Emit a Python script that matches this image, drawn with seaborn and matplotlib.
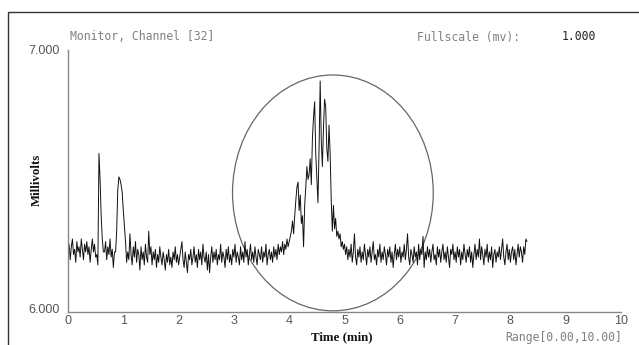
import numpy as np
import pandas as pd
import matplotlib
matplotlib.use("Agg")
import matplotlib.pyplot as plt
from matplotlib.patches import Ellipse, Rectangle
import seaborn as sns

# ---------------- data (millivolts, sampled every 0.02 min) ----------------
dt = 0.02
start_baseline = 0.00
baseline_start = [6.22, 6.25, 6.19, 6.24, 6.27, 6.21, 6.23, 6.18, 6.26, 6.22,
                  6.24, 6.20, 6.27, 6.23, 6.19, 6.25, 6.22, 6.26, 6.21, 6.24,
                  6.18, 6.23, 6.27, 6.22, 6.25, 6.20, 6.21, 6.17]
start_peak1 = 0.56
peak1 = [6.60, 6.50, 6.36, 6.27, 6.22]
start_between = 0.66
between = [6.22, 6.26, 6.19, 6.24, 6.21, 6.27, 6.20, 6.23, 6.16, 6.22]
start_peak2 = 0.86
peak2 = [6.22, 6.30, 6.46, 6.51, 6.50, 6.48, 6.45, 6.38, 6.32, 6.26, 6.18]
start_mid = 1.08
mid_baseline = [6.22, 6.19, 6.29, 6.21, 6.17, 6.24, 6.20, 6.26, 6.18, 6.23,
                 6.21, 6.15, 6.24, 6.19, 6.22, 6.17, 6.25, 6.20, 6.18, 6.30,
                 6.21, 6.24, 6.17, 6.22, 6.19, 6.23, 6.16, 6.21, 6.18, 6.24,
                 6.20, 6.17, 6.22, 6.19, 6.15, 6.21, 6.18, 6.23, 6.17, 6.20,
                 6.16, 6.22, 6.19, 6.24, 6.18, 6.21, 6.17, 6.20, 6.23, 6.26,
                 6.19, 6.16, 6.22, 6.18, 6.14, 6.21, 6.19, 6.23, 6.17, 6.20,
                 6.24, 6.18, 6.21, 6.16, 6.23, 6.19, 6.22, 6.17, 6.25, 6.20,
                 6.18, 6.22, 6.15, 6.21, 6.14, 6.20, 6.24, 6.18, 6.22, 6.19,
                 6.23, 6.17, 6.21, 6.19, 6.25, 6.18, 6.22, 6.20, 6.16, 6.23,
                 6.19, 6.24, 6.18, 6.21, 6.17, 6.23, 6.20, 6.25, 6.18, 6.22,
                 6.20, 6.17, 6.24, 6.19, 6.22, 6.18, 6.26, 6.20, 6.23, 6.17,
                 6.21, 6.25, 6.19, 6.22, 6.18, 6.24, 6.20, 6.17, 6.23, 6.21,
                 6.19, 6.24, 6.18, 6.22, 6.20, 6.25, 6.17, 6.21, 6.23, 6.19,
                 6.22, 6.18, 6.24, 6.20, 6.23, 6.19, 6.25, 6.21, 6.24, 6.22,
                 6.26, 6.21, 6.25, 6.23, 6.27, 6.24]
start_main = 4.00
main_peak = [6.26, 6.28, 6.30, 6.34, 6.29, 6.36, 6.42, 6.47, 6.49, 6.38,
             6.44, 6.33, 6.36, 6.24, 6.40, 6.47, 6.55, 6.50, 6.52, 6.58,
             6.48, 6.66, 6.74, 6.80, 6.60, 6.50, 6.41, 6.62, 6.88, 6.65,
             6.55, 6.70, 6.81, 6.78, 6.62, 6.57, 6.71, 6.60, 6.42, 6.30,
             6.40, 6.31, 6.35, 6.28, 6.30, 6.27, 6.29, 6.24, 6.26, 6.23,
             6.25]
start_tail = 5.02
tail_baseline = [6.21, 6.24, 6.19, 6.23, 6.20, 6.25, 6.18, 6.22, 6.29, 6.20,
                 6.17, 6.23, 6.20, 6.24, 6.18, 6.22, 6.19, 6.25, 6.21, 6.17,
                 6.23, 6.20, 6.24, 6.18, 6.22, 6.26, 6.19, 6.21, 6.17, 6.23,
                 6.20, 6.25, 6.18, 6.22, 6.19, 6.24, 6.21, 6.17, 6.23, 6.20,
                 6.24, 6.18, 6.22, 6.16, 6.21, 6.25, 6.19, 6.23, 6.20, 6.24,
                 6.18, 6.22, 6.20, 6.25, 6.19, 6.23, 6.29, 6.20, 6.17, 6.23,
                 6.21, 6.18, 6.24, 6.20, 6.22, 6.17, 6.25, 6.19, 6.23, 6.21,
                 6.28, 6.16, 6.22, 6.19, 6.24, 6.20, 6.23, 6.18, 6.22, 6.25,
                 6.19, 6.21, 6.17, 6.24, 6.20, 6.23, 6.18, 6.22, 6.25, 6.19,
                 6.22, 6.18, 6.24, 6.20, 6.16, 6.23, 6.21, 6.25, 6.19, 6.22,
                 6.18, 6.24, 6.20, 6.23, 6.17, 6.22, 6.19, 6.25, 6.21, 6.18,
                 6.23, 6.20, 6.24, 6.18, 6.22, 6.16, 6.21, 6.25, 6.19, 6.23,
                 6.20, 6.27, 6.19, 6.24, 6.21, 6.17, 6.23, 6.20, 6.25, 6.18,
                 6.22, 6.19, 6.24, 6.16, 6.21, 6.23, 6.18, 6.22, 6.20, 6.24,
                 6.19, 6.23, 6.27, 6.20, 6.17, 6.22, 6.25, 6.19, 6.23, 6.18,
                 6.22, 6.24, 6.19, 6.23, 6.17, 6.21, 6.25, 6.20, 6.24, 6.22,
                 6.18, 6.24, 6.21, 6.27, 6.26]

x_ticks = [0, 1, 2, 3, 4, 5, 6, 7, 8, 9, 10]
y_ticks = [6.0, 7.0]

segments = [(start_baseline, baseline_start), (start_peak1, peak1),
            (start_between, between), (start_peak2, peak2),
            (start_mid, mid_baseline), (start_main, main_peak),
            (start_tail, tail_baseline)]
times, values = [], []
for s, seg in segments:
    times.extend(s + dt * np.arange(len(seg)))
    values.extend(seg)
df = pd.DataFrame({"Time (min)": times, "Millivolts": values})

# ---------------- figure ----------------
sns.set_style("white")
plt.rcParams["font.family"] = ["DejaVu Sans"]

W, H = 639, 345
fig = plt.figure(figsize=(W / 100, H / 100), dpi=100)
ax = fig.add_axes([68 / W, 33 / H, 553 / W, 262 / H])

sns.lineplot(data=df, x="Time (min)", y="Millivolts", ax=ax, color="#111111",
             linewidth=0.7, estimator=None, sort=False)

ax.set_xlim(0, 10)
ax.set_ylim(5.988, 7.0)
ax.set_xticks(x_ticks)
ax.set_xticklabels([str(v) for v in x_ticks])
ax.set_yticks(y_ticks)
ax.set_yticklabels([f"{v:.3f}" for v in y_ticks])
ax.set_xlabel("")
ax.set_ylabel("")
for sp in ["top", "right"]:
    ax.spines[sp].set_visible(False)
for sp in ["left", "bottom"]:
    ax.spines[sp].set_color("#888888")
    ax.spines[sp].set_linewidth(1.0)
ax.tick_params(axis="x", direction="in", length=3, color="#888888",
               labelsize=9, labelcolor="#555555", pad=2)
ax.tick_params(axis="y", direction="out", length=4, color="#888888",
               labelsize=9, labelcolor="#555555", pad=2)
for lab in ax.get_xticklabels() + ax.get_yticklabels():
    lab.set_family("Liberation Sans")

# highlight ellipse
ax.add_patch(Ellipse((4.79, 6.448), 3.63, 0.911, fill=False,
                     edgecolor="#666666", linewidth=0.9, clip_on=False))

def px(x, y):
    return x / W, 1 - y / H

mono = "DejaVu Sans Mono"
fig.text(*px(70, 37), "Monitor, Channel [32]", family=mono, size=8.3,
         color="#808080", ha="left", va="center")
fig.text(*px(417, 37), "Fullscale (mv):", family=mono, size=8.3,
         color="#808080", ha="left", va="center")
fig.text(*px(562, 37), "1.000", family=mono, size=8.3,
         color="#222222", ha="left", va="center")
fig.text(*px(622, 337), "Range[0.00,10.00]", family=mono, size=8.3,
         color="#808080", ha="right", va="center")
fig.text(*px(342, 337), "Time (min)", family="Liberation Serif",
         weight="bold", size=9.3, color="#111111", ha="center", va="center")
fig.text(*px(37, 180), "Millivolts", family="Liberation Serif",
         weight="bold", size=9.3, color="#111111", ha="center", va="center",
         rotation=90)

# outer frame
fig.add_artist(Rectangle((8 / W, -0.5), 2.0, 0.5 + (1 - 12 / H),
                         transform=fig.transFigure, fill=False,
                         edgecolor="#333333", linewidth=1.0))

fig.savefig("out.png", dpi=100)
